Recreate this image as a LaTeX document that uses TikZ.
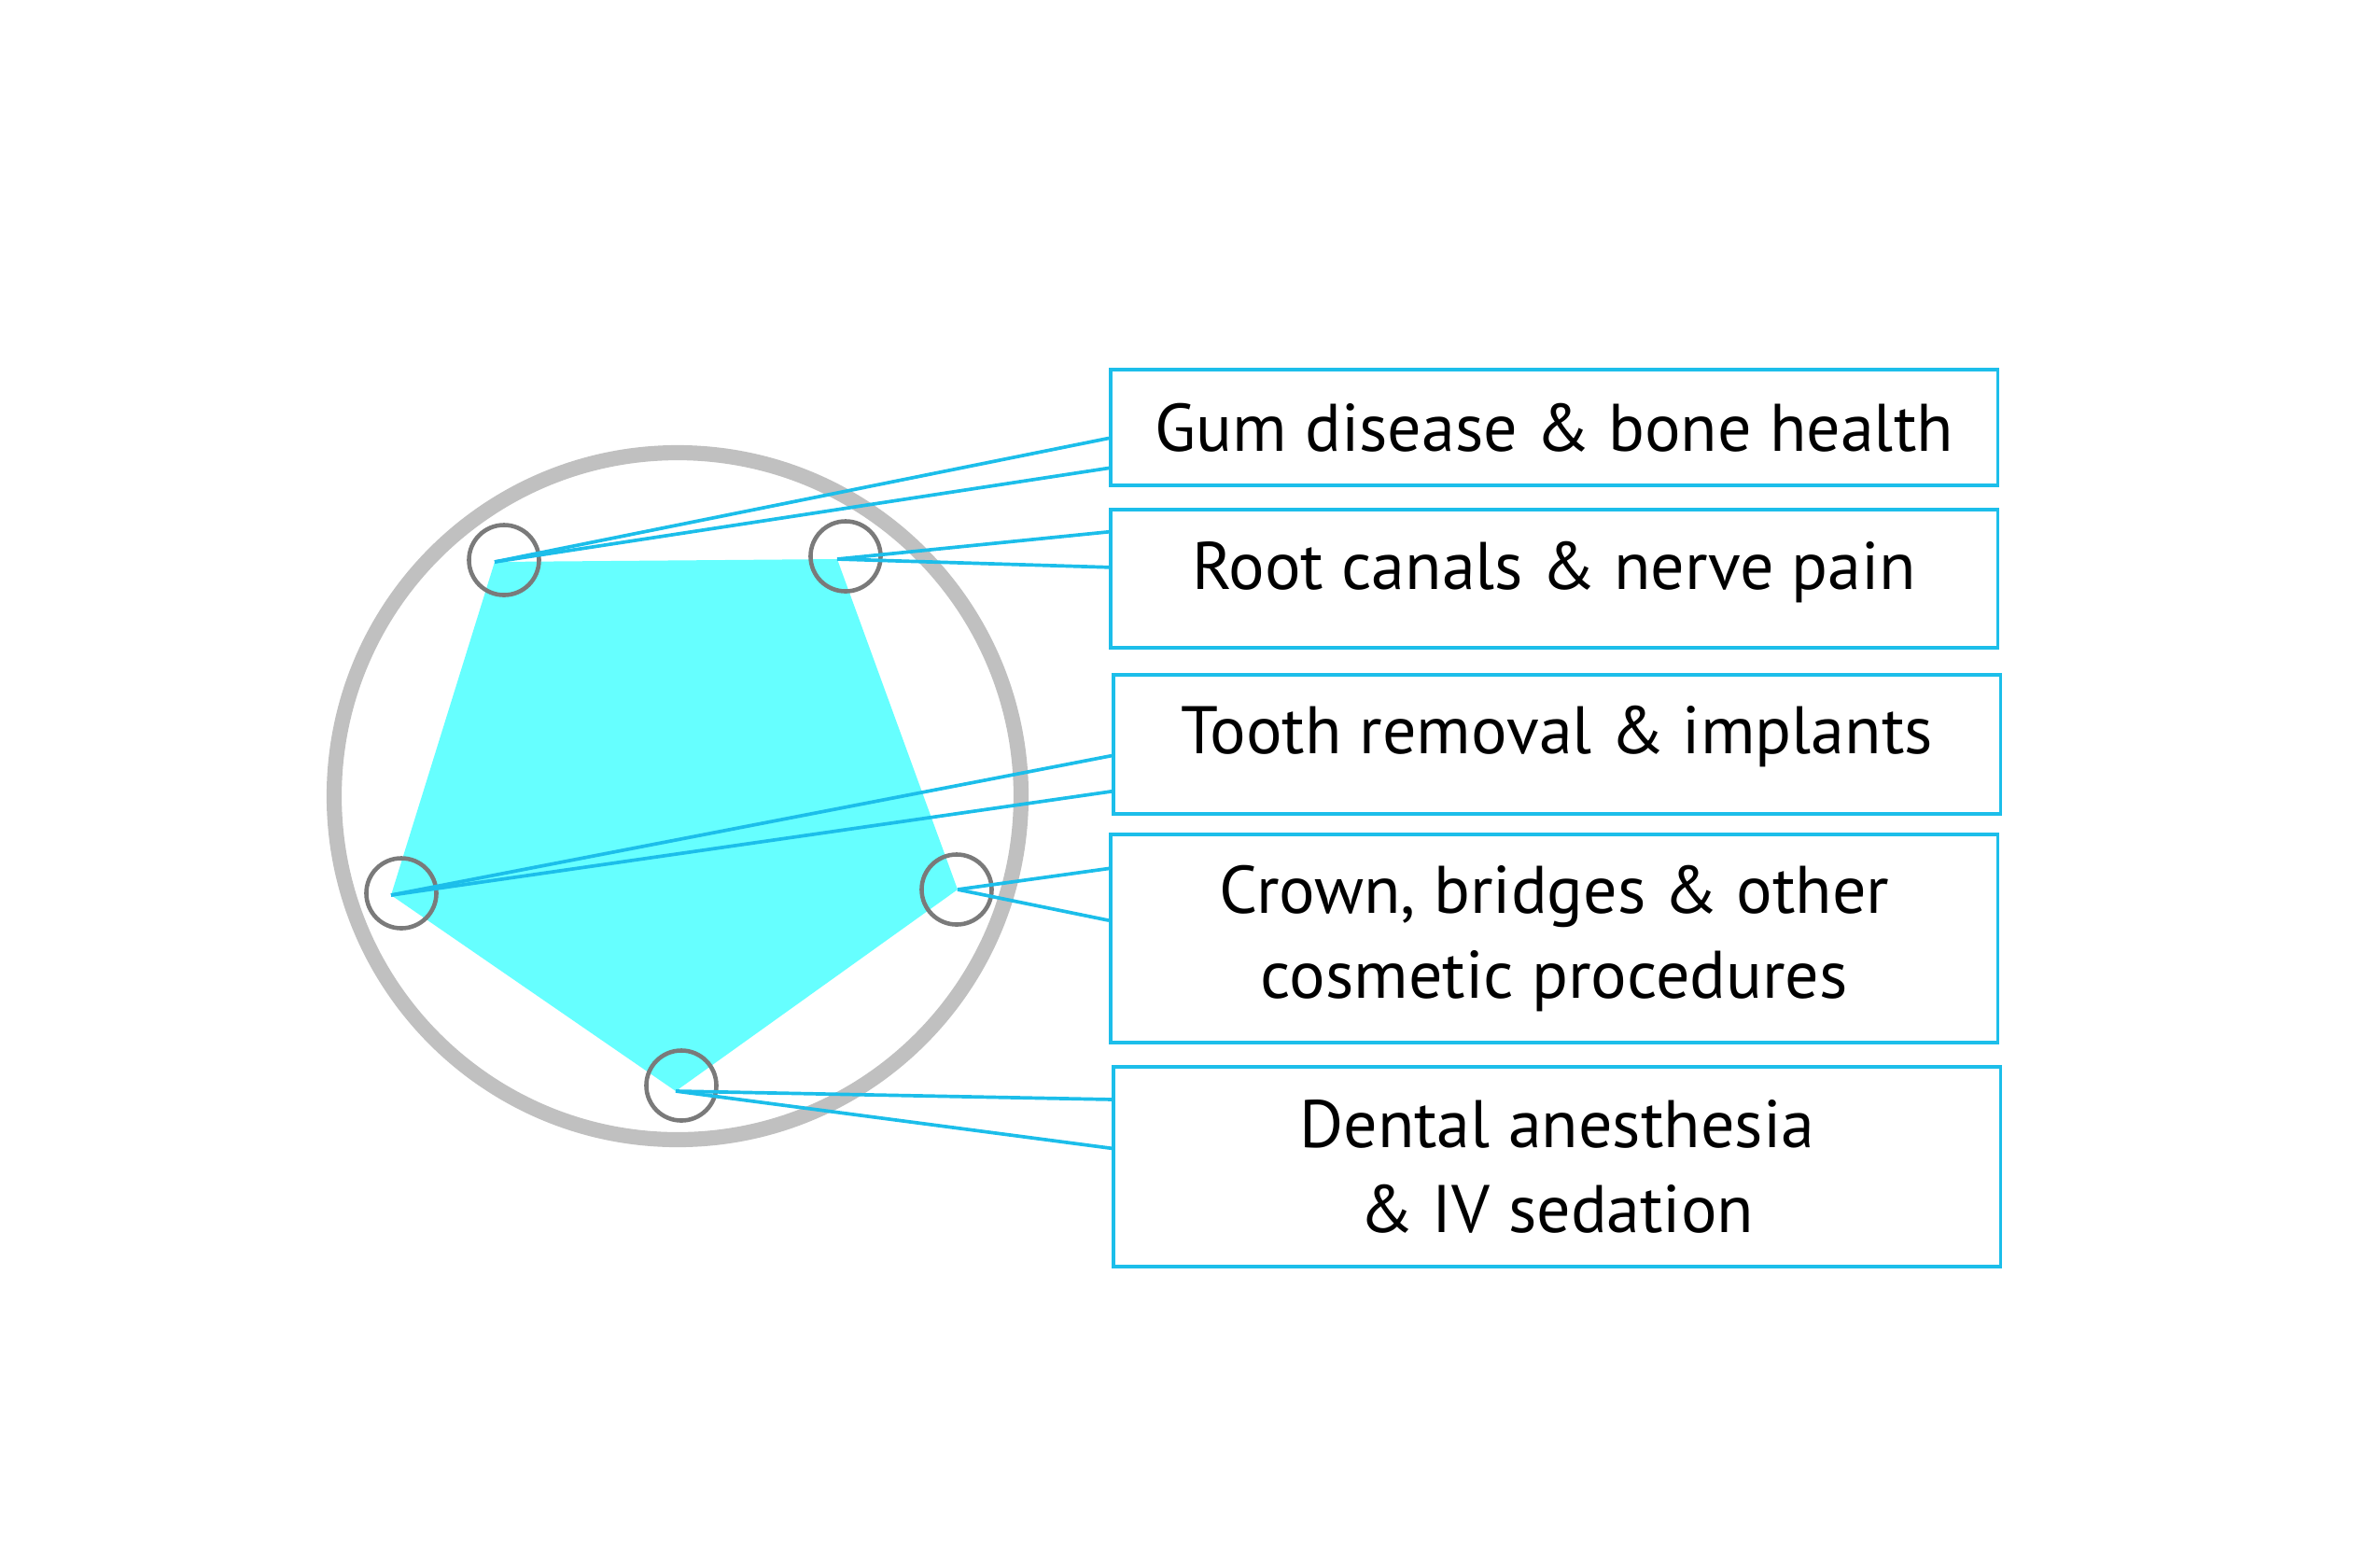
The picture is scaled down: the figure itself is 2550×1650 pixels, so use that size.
\documentclass[tikz,border=0pt]{standalone}
\usepackage{fontspec}
\setmainfont{PT Sans}
\usetikzlibrary{positioning,calc}
\definecolor{sky}{RGB}{28,190,234}
\definecolor{aqua}{RGB}{102,255,255}
\definecolor{rim}{RGB}{192,192,192}
\definecolor{knob}{RGB}{122,122,122}
\tikzset{
  topic/.style={draw=sky, line width=1.1pt, minimum width=9.5cm, align=center,
    font=\fontsize{20.5}{26}\selectfont},
  oneline/.style={text height=0.5cm, text depth=0cm},
  tie/.style={draw=sky, line width=1.05pt},
  socket/.style={circle, draw=knob, line width=1.3pt, minimum size=0.75cm, inner sep=0pt}
}
\begin{document}
\begin{tikzpicture}[x=0.01cm, y=-0.01cm]
\useasboundingbox (0,0) rectangle (2550,1650);
% ring and pentagon
\draw[rim, line width=4.6pt] (726,853) circle (368);
\coordinate (gumtip) at (530,602);
\coordinate (roottip) at (897,599);
\coordinate (crowntip) at (1026,953);
\coordinate (dentaltip) at (724,1169);
\coordinate (toothtip) at (419,959);
\fill[aqua] (gumtip) -- (roottip) -- (crowntip) -- (dentaltip) -- (toothtip) -- cycle;
\node[socket] (gumring) at (540,600) {};
\node[socket] (rootring) at (906,596) {};
\node[socket] (crownring) at (1025,953) {};
\node[socket] (dentalring) at (730,1163) {};
\node[socket] (toothring) at (430,957) {};
% boxes
\node[topic, oneline, minimum height=1.24cm, anchor=north west] (gum) at (1188,394) {Gum disease \& bone health};
\node[topic, oneline, minimum height=1.48cm, text depth=0.26cm, below=0.22cm of gum] (root) {Root canals \& nerve pain};
\node[topic, oneline, minimum height=1.49cm, text depth=0.30cm, below=0.25cm of root, xshift=0.03cm] (tooth) {Tooth removal \& implants};
\node[topic, minimum height=2.23cm, below=0.18cm of tooth, xshift=-0.03cm] (crown) {Crown, bridges \& other\\cosmetic procedures};
\node[topic, minimum height=2.14cm, below=0.22cm of crown, xshift=0.03cm] (dental) {Dental anesthesia\\\& IV sedation};
% ties
\draw[tie] (gumtip) -- ($(gum.north west)!0.59!(gum.south west)$);
\draw[tie] (gumtip) -- ($(gum.north west)!0.84!(gum.south west)$);
\draw[tie] (roottip) -- ($(root.north west)!0.17!(root.south west)$);
\draw[tie] (roottip) -- ($(root.north west)!0.42!(root.south west)$);
\draw[tie] (toothtip) -- ($(tooth.north west)!0.58!(tooth.south west)$);
\draw[tie] (toothtip) -- ($(tooth.north west)!0.83!(tooth.south west)$);
\draw[tie] (crowntip) -- ($(crown.north west)!0.17!(crown.south west)$);
\draw[tie] (crowntip) -- ($(crown.north west)!0.415!(crown.south west)$);
\draw[tie] (dentaltip) -- ($(dental.north west)!0.17!(dental.south west)$);
\draw[tie] (dentaltip) -- ($(dental.north west)!0.41!(dental.south west)$);
\end{tikzpicture}
\end{document}
